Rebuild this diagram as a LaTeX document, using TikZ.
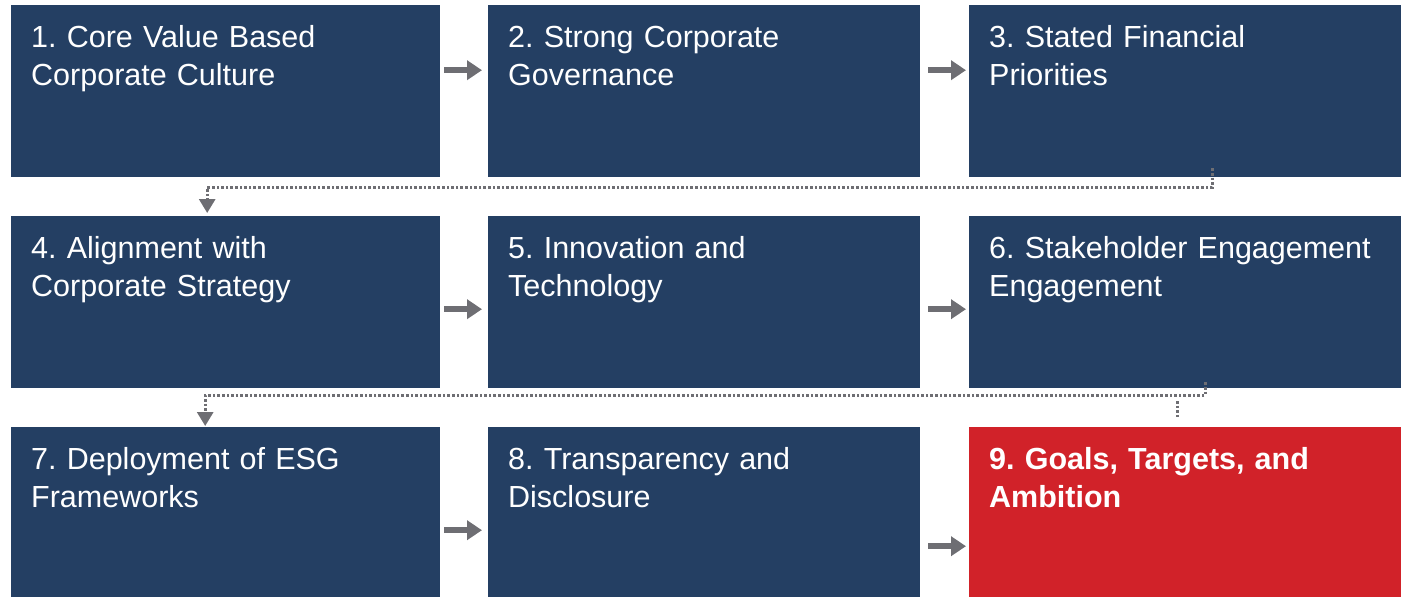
\documentclass[tikz,border=0pt]{standalone}
\usepackage{fontspec}
\setmainfont{Liberation Sans}
\usetikzlibrary{arrows.meta}
\definecolor{navy}{RGB}{36,63,99}
\definecolor{redbox}{RGB}{209,34,41}
\definecolor{arrowgray}{RGB}{110,110,115}
\frenchspacing
\begin{document}
\begin{tikzpicture}[x=1pt,y=-1pt,
  box/.style={fill=navy, draw=none, anchor=north west, minimum width=#1, minimum height=172pt, inner sep=0pt},
  lbl/.style={anchor=base west, text=white, font=\fontsize{30.5}{38.5}\selectfont, text width=420pt, align=left, inner sep=0pt},
  arr/.style={draw=arrowgray, line width=6pt, -{Triangle[length=15pt,width=19pt]}},
  dot/.style={draw=arrowgray, line width=3pt, dash pattern=on 2.7pt off 1.9pt},
  dotarr/.style={dot, -{Triangle[length=14pt,width=16pt]}}]
\useasboundingbox (0,0) rectangle (1406,597);
% boxes
\node[box=429pt] (b1) at (11,5) {};
\node[box=432pt] (b2) at (488,5) {};
\node[box=432pt] (b3) at (969,5) {};
\node[box=429pt] (b4) at (11,216) {};
\node[box=432pt] (b5) at (488,216) {};
\node[box=432pt] (b6) at (969,216) {};
\node[box=429pt] (b7) at (11,427) {};
\node[box=432pt] (b8) at (488,427) {};
\node[box=432pt, fill=redbox] (b9) at (969,427) {};
% texts
\node[lbl] (t1) at ([xshift=20pt,yshift=-42pt]b1.north west) {1. Core Value Based\\Corporate Culture};
\node[lbl] (t2) at ([xshift=20pt,yshift=-42pt]b2.north west) {2. Strong Corporate\\Governance};
\node[lbl] (t3) at ([xshift=20pt,yshift=-42pt]b3.north west) {3. Stated Financial\\Priorities};
\node[lbl] (t4) at ([xshift=20pt,yshift=-42pt]b4.north west) {4. Alignment with\\Corporate Strategy};
\node[lbl] (t5) at ([xshift=20pt,yshift=-42pt]b5.north west) {5. Innovation and\\Technology};
\node[lbl] (t6) at ([xshift=20pt,yshift=-42pt]b6.north west) {6. Stakeholder Engagement\\Engagement};
\node[lbl] (t7) at ([xshift=20pt,yshift=-42pt]b7.north west) {7. Deployment of ESG\\Frameworks};
\node[lbl] (t8) at ([xshift=20pt,yshift=-42pt]b8.north west) {8. Transparency and\\Disclosure};
\node[lbl, font=\fontsize{30.5}{38.5}\selectfont\bfseries] (t9) at ([xshift=20pt,yshift=-42pt]b9.north west) {9. Goals, Targets, and\\Ambition};
% solid arrows
\draw[arr] ([xshift=4pt,yshift=21pt]b1.east) -- ([xshift=-6pt,yshift=21pt]b2.west);
\draw[arr] ([xshift=8pt,yshift=21pt]b2.east) -- ([xshift=-3pt,yshift=21pt]b3.west);
\draw[arr] ([xshift=4pt,yshift=-7pt]b4.east) -- ([xshift=-6pt,yshift=-7pt]b5.west);
\draw[arr] ([xshift=8pt,yshift=-7pt]b5.east) -- ([xshift=-3pt,yshift=-7pt]b6.west);
\draw[arr] ([xshift=4pt,yshift=-17pt]b7.east) -- ([xshift=-6pt,yshift=-17pt]b8.west);
\draw[arr] ([xshift=8pt,yshift=-33pt]b8.east) -- ([xshift=-3pt,yshift=-33pt]b9.west);
% dotted connectors
\draw[dotarr] ([xshift=27pt,yshift=9pt]b3.south) -- ++(0,19) -| ([xshift=-18.5pt,yshift=3pt]b4.north);
\draw[dotarr] ([xshift=20pt,yshift=6pt]b6.south) -- ++(0,13) -| ([xshift=-20.5pt,yshift=1pt]b7.north);
\draw[dot] ([xshift=-8pt,yshift=26pt]b9.north) -- ([xshift=-8pt,yshift=10pt]b9.north);
\end{tikzpicture}
\end{document}
